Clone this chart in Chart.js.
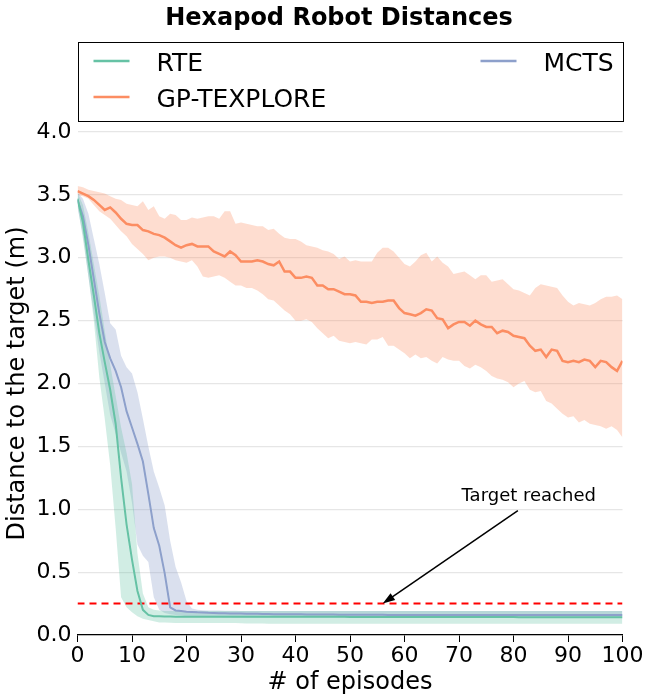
<!DOCTYPE html>
<html>
<head>
<meta charset="utf-8">
<script src="https://cdn.jsdelivr.net/npm/chart.js@4.4.1/dist/chart.umd.min.js"></script>
<style>
  html, body { margin: 0; padding: 0; background: #fff; }
  canvas { display: block; }
</style>
</head>
<body>
<canvas id="distChart" width="646" height="697"></canvas>
<script>
// episodes on the x axis
var episodes = Array.from({ length: 101 }, function (_, i) { return i; });
var xTicks = [0, 10, 20, 30, 40, 50, 60, 70, 80, 90, 100];
var yTicks = [0.0, 0.5, 1.0, 1.5, 2.0, 2.5, 3.0, 3.5, 4.0];
var targetLevel = 0.25;

// RTE
var rteMean = [3.47, 3.28, 2.98, 2.70, 2.40, 2.17, 1.95, 1.68, 1.25, 0.88,
  0.60, 0.35, 0.20, 0.16, 0.15, 0.15, 0.148, 0.147, 0.146, 0.146,
  0.145, 0.145, 0.145, 0.145, 0.145, 0.145, 0.145, 0.145, 0.145, 0.145,
  0.145, 0.145, 0.145, 0.145, 0.145, 0.145, 0.145, 0.145, 0.145, 0.145,
  0.145, 0.145, 0.145, 0.145, 0.145, 0.145, 0.145, 0.145, 0.145, 0.145,
  0.144, 0.143, 0.143, 0.143, 0.143, 0.143, 0.143, 0.143, 0.143, 0.143,
  0.143, 0.143, 0.143, 0.143, 0.143, 0.143, 0.143, 0.143, 0.143, 0.143,
  0.143, 0.143, 0.143, 0.143, 0.143, 0.143, 0.143, 0.143, 0.143, 0.143,
  0.143, 0.142, 0.142, 0.142, 0.142, 0.142, 0.142, 0.142, 0.142, 0.142,
  0.142, 0.142, 0.142, 0.142, 0.142, 0.142, 0.142, 0.142, 0.142, 0.142, 0.142];
var rteLow = [3.42, 3.15, 2.85, 2.50, 2.05, 1.72, 1.35, 0.85, 0.30, 0.22,
  0.18, 0.15, 0.13, 0.12, 0.11, 0.10, 0.10, 0.098, 0.096, 0.095,
  0.095, 0.095, 0.095, 0.095, 0.095, 0.095, 0.095, 0.095, 0.095, 0.095,
  0.093, 0.092, 0.092, 0.091, 0.091, 0.09, 0.09, 0.09, 0.09, 0.09,
  0.09, 0.09, 0.09, 0.09, 0.09, 0.09, 0.09, 0.09, 0.09, 0.09,
  0.09, 0.09, 0.09, 0.09, 0.09, 0.09, 0.09, 0.09, 0.09, 0.09,
  0.09, 0.09, 0.09, 0.09, 0.09, 0.09, 0.09, 0.09, 0.09, 0.09,
  0.09, 0.09, 0.09, 0.09, 0.09, 0.09, 0.09, 0.09, 0.09, 0.09,
  0.09, 0.09, 0.09, 0.09, 0.09, 0.09, 0.09, 0.09, 0.09, 0.09,
  0.09, 0.09, 0.09, 0.09, 0.09, 0.09, 0.09, 0.09, 0.09, 0.09, 0.09];
var rteHigh = [3.52, 3.42, 3.20, 2.95, 2.70, 2.42, 2.15, 1.90, 1.65, 1.45,
  1.20, 0.65, 0.33, 0.22, 0.20, 0.195, 0.19, 0.19, 0.19, 0.19,
  0.19, 0.19, 0.19, 0.19, 0.19, 0.19, 0.19, 0.19, 0.19, 0.19,
  0.19, 0.19, 0.19, 0.19, 0.19, 0.19, 0.19, 0.19, 0.19, 0.19,
  0.19, 0.19, 0.19, 0.19, 0.19, 0.19, 0.19, 0.19, 0.19, 0.19,
  0.19, 0.19, 0.19, 0.19, 0.19, 0.19, 0.19, 0.19, 0.19, 0.19,
  0.19, 0.19, 0.19, 0.19, 0.19, 0.19, 0.19, 0.19, 0.19, 0.19,
  0.19, 0.19, 0.19, 0.19, 0.19, 0.19, 0.19, 0.19, 0.19, 0.19,
  0.19, 0.19, 0.19, 0.19, 0.19, 0.19, 0.19, 0.19, 0.19, 0.19,
  0.19, 0.19, 0.19, 0.19, 0.19, 0.19, 0.19, 0.19, 0.19, 0.19, 0.19];

// MCTS
var mctsMean = [3.46, 3.33, 3.10, 2.83, 2.56, 2.33, 2.20, 2.10, 1.97, 1.78,
  1.65, 1.52, 1.38, 1.12, 0.85, 0.71, 0.49, 0.22, 0.195, 0.19,
  0.185, 0.183, 0.18, 0.178, 0.176, 0.175, 0.173, 0.172, 0.171, 0.17,
  0.17, 0.169, 0.168, 0.168, 0.167, 0.167, 0.166, 0.166, 0.166, 0.165,
  0.165, 0.165, 0.164, 0.164, 0.164, 0.163, 0.163, 0.163, 0.162, 0.162,
  0.162, 0.162, 0.161, 0.161, 0.161, 0.161, 0.161, 0.16, 0.16, 0.16,
  0.16, 0.16, 0.16, 0.16, 0.16, 0.16, 0.16, 0.16, 0.16, 0.16,
  0.16, 0.16, 0.16, 0.16, 0.16, 0.16, 0.16, 0.16, 0.16, 0.16,
  0.16, 0.16, 0.16, 0.16, 0.16, 0.16, 0.16, 0.16, 0.16, 0.16,
  0.16, 0.16, 0.16, 0.16, 0.16, 0.16, 0.16, 0.16, 0.16, 0.16, 0.16];
var mctsLow = [3.40, 3.18, 2.85, 2.55, 2.25, 2.00, 1.75, 1.60, 1.45, 1.30,
  1.05, 0.72, 0.63, 0.58, 0.30, 0.20, 0.175, 0.165, 0.16, 0.155,
  0.15, 0.148, 0.146, 0.145, 0.145, 0.144, 0.143, 0.142, 0.141, 0.14,
  0.14, 0.14, 0.14, 0.14, 0.14, 0.14, 0.14, 0.14, 0.14, 0.14,
  0.14, 0.14, 0.14, 0.14, 0.14, 0.14, 0.14, 0.14, 0.14, 0.14,
  0.14, 0.14, 0.14, 0.14, 0.14, 0.14, 0.14, 0.14, 0.14, 0.14,
  0.14, 0.14, 0.14, 0.14, 0.14, 0.14, 0.14, 0.14, 0.14, 0.14,
  0.14, 0.14, 0.14, 0.14, 0.14, 0.14, 0.14, 0.14, 0.14, 0.14,
  0.14, 0.14, 0.14, 0.14, 0.14, 0.14, 0.14, 0.14, 0.14, 0.14,
  0.14, 0.14, 0.14, 0.14, 0.14, 0.14, 0.14, 0.14, 0.14, 0.14, 0.14];
var mctsHigh = [3.52, 3.47, 3.35, 3.15, 2.95, 2.72, 2.48, 2.43, 2.22, 2.13,
  2.08, 1.93, 1.72, 1.50, 1.30, 1.17, 1.03, 0.75, 0.54, 0.42,
  0.27, 0.21, 0.20, 0.197, 0.195, 0.195, 0.194, 0.193, 0.192, 0.192,
  0.191, 0.19, 0.19, 0.19, 0.19, 0.19, 0.19, 0.19, 0.19, 0.19,
  0.19, 0.19, 0.19, 0.19, 0.19, 0.19, 0.19, 0.19, 0.19, 0.19,
  0.19, 0.19, 0.19, 0.19, 0.19, 0.19, 0.19, 0.19, 0.19, 0.19,
  0.19, 0.19, 0.19, 0.19, 0.19, 0.19, 0.19, 0.19, 0.19, 0.19,
  0.19, 0.19, 0.19, 0.19, 0.19, 0.19, 0.19, 0.19, 0.19, 0.19,
  0.19, 0.19, 0.19, 0.19, 0.19, 0.19, 0.19, 0.19, 0.19, 0.19,
  0.19, 0.19, 0.19, 0.19, 0.19, 0.19, 0.19, 0.19, 0.19, 0.19, 0.19];

// GP-TEXPLORE
var gpMean = [3.53, 3.51, 3.49, 3.46, 3.42, 3.38, 3.40, 3.36, 3.31, 3.27,
  3.26, 3.26, 3.22, 3.21, 3.19, 3.18, 3.16, 3.13, 3.10, 3.08,
  3.10, 3.11, 3.09, 3.09, 3.09, 3.05, 3.03, 3.01, 3.05, 3.02,
  2.97, 2.97, 2.97, 2.98, 2.97, 2.95, 2.94, 2.97, 2.89, 2.89,
  2.84, 2.84, 2.85, 2.84, 2.78, 2.78, 2.75, 2.75, 2.73, 2.71,
  2.71, 2.70, 2.65, 2.65, 2.64, 2.65, 2.65, 2.66, 2.66, 2.60,
  2.56, 2.55, 2.54, 2.56, 2.59, 2.58, 2.52, 2.51, 2.44, 2.47,
  2.49, 2.49, 2.46, 2.50, 2.47, 2.45, 2.45, 2.40, 2.42, 2.41,
  2.38, 2.37, 2.36, 2.30, 2.26, 2.27, 2.21, 2.27, 2.26, 2.18,
  2.17, 2.18, 2.17, 2.19, 2.18, 2.13, 2.18, 2.17, 2.13, 2.10, 2.18];
var gpLow = [3.50, 3.49, 3.47, 3.42, 3.37, 3.34, 3.31, 3.26, 3.21, 3.17,
  3.11, 3.07, 3.03, 2.98, 3.00, 3.01, 3.01, 3.00, 2.98, 2.97,
  2.96, 2.98, 2.93, 2.85, 2.84, 2.85, 2.86, 2.84, 2.81, 2.78,
  2.78, 2.76, 2.76, 2.74, 2.71, 2.67, 2.66, 2.62, 2.58, 2.55,
  2.50, 2.50, 2.51, 2.49, 2.44, 2.40, 2.36, 2.38, 2.34, 2.33,
  2.32, 2.33, 2.32, 2.31, 2.35, 2.35, 2.37, 2.30, 2.30, 2.27,
  2.24, 2.20, 2.23, 2.20, 2.21, 2.18, 2.16, 2.21, 2.19, 2.18,
  2.18, 2.14, 2.12, 2.15, 2.13, 2.10, 2.06, 2.04, 2.03, 2.01,
  1.97, 2.00, 2.02, 1.95, 1.93, 1.94, 1.86, 1.84, 1.80, 1.76,
  1.73, 1.74, 1.69, 1.71, 1.68, 1.67, 1.66, 1.64, 1.66, 1.63, 1.57];
var gpHigh = [3.57, 3.56, 3.54, 3.53, 3.52, 3.51, 3.49, 3.47, 3.46, 3.43,
  3.42, 3.41, 3.45, 3.38, 3.41, 3.33, 3.31, 3.35, 3.34, 3.30,
  3.30, 3.32, 3.31, 3.32, 3.33, 3.33, 3.31, 3.37, 3.37, 3.27,
  3.28, 3.27, 3.26, 3.25, 3.25, 3.22, 3.23, 3.19, 3.16, 3.15,
  3.15, 3.13, 3.10, 3.09, 3.08, 3.06, 3.05, 3.03, 2.99, 3.01,
  2.97, 2.98, 2.97, 2.97, 2.97, 3.04, 3.08, 3.08, 3.05, 3.00,
  2.95, 2.93, 2.97, 3.02, 3.04, 2.97, 3.01, 2.96, 2.93, 2.87,
  2.88, 2.89, 2.86, 2.83, 2.86, 2.86, 2.81, 2.82, 2.83, 2.79,
  2.75, 2.74, 2.72, 2.70, 2.76, 2.79, 2.78, 2.77, 2.76, 2.70,
  2.65, 2.62, 2.64, 2.63, 2.62, 2.64, 2.67, 2.69, 2.69, 2.70, 2.67];

var GREEN = '#66c2a5', ORANGE = '#fc8d62', BLUE = '#8da0cb';
var FONT = 'DejaVu Sans';

function pts(vals) {
  return episodes.map(function (e, i) { return { x: e, y: vals[i] }; });
}
function band(vals, fill, color) {
  return { label: '', data: pts(vals), borderColor: 'transparent', borderWidth: 0,
    pointRadius: 0, fill: fill, backgroundColor: color };
}

// annotation for "Target reached", in data units
var note = { text: 'Target reached', x: 82.8, y: 1.1, fromX: 80.8, fromY: 0.99, toX: 56, toY: 0.25 };

var overlay = {
  id: 'overlay',
  afterDraw: function (chart) {
    var ctx = chart.ctx, area = chart.chartArea;
    var xs = chart.scales.x, ys = chart.scales.y;
    ctx.save();
    // title
    ctx.fillStyle = '#000';
    ctx.font = 'bold 24px "' + FONT + '"';
    ctx.textAlign = 'center';
    ctx.textBaseline = 'alphabetic';
    ctx.fillText('Hexapod Robot Distances', 339, 25);

    // legend box
    ctx.lineWidth = 1;
    ctx.strokeStyle = '#000';
    ctx.strokeRect(Math.round(area.left) + 0.5, 42.5, Math.round(area.right - area.left), 79);
    var items = [
      { ds: chart.data.datasets[0], lx: area.left + 16, ty: 71, ly: 61 },
      { ds: chart.data.datasets[2], lx: area.left + 16, ty: 107, ly: 97 },
      { ds: chart.data.datasets[1], lx: area.left + 403, ty: 71, ly: 61 }
    ];
    ctx.font = '25px "' + FONT + '"';
    ctx.textAlign = 'left';
    items.forEach(function (it) {
      ctx.strokeStyle = it.ds.borderColor;
      ctx.lineWidth = 2.5;
      ctx.beginPath();
      ctx.moveTo(it.lx, it.ly);
      ctx.lineTo(it.lx + 36, it.ly);
      ctx.stroke();
      ctx.fillStyle = '#000';
      ctx.fillText(it.ds.label, it.lx + 63, it.ty);
    });

    // annotation arrow
    var x0 = xs.getPixelForValue(note.fromX), y0 = ys.getPixelForValue(note.fromY);
    var x1 = xs.getPixelForValue(note.toX), y1 = ys.getPixelForValue(note.toY);
    var ang = Math.atan2(y1 - y0, x1 - x0), head = 13;
    ctx.strokeStyle = '#000';
    ctx.fillStyle = '#000';
    ctx.lineWidth = 1.5;
    ctx.beginPath();
    ctx.moveTo(x0, y0);
    ctx.lineTo(x1 - Math.cos(ang) * head * 0.8, y1 - Math.sin(ang) * head * 0.8);
    ctx.stroke();
    ctx.beginPath();
    ctx.moveTo(x1, y1);
    ctx.lineTo(x1 - head * Math.cos(ang - 0.32), y1 - head * Math.sin(ang - 0.32));
    ctx.lineTo(x1 - head * Math.cos(ang + 0.32), y1 - head * Math.sin(ang + 0.32));
    ctx.closePath();
    ctx.fill();
    ctx.font = '18px "' + FONT + '"';
    ctx.textAlign = 'center';
    ctx.textBaseline = 'middle';
    ctx.fillText(note.text, xs.getPixelForValue(note.x), ys.getPixelForValue(note.y));
    ctx.restore();
  }
};

var ctx = document.getElementById('distChart').getContext('2d');
var distChart = new Chart(ctx, {
  type: 'line',
  data: {
    datasets: [
      { label: 'RTE', data: pts(rteMean), borderColor: GREEN, borderWidth: 2, pointRadius: 0, fill: false },
      { label: 'MCTS', data: pts(mctsMean), borderColor: BLUE, borderWidth: 2, pointRadius: 0, fill: false },
      { label: 'GP-TEXPLORE', data: pts(gpMean), borderColor: ORANGE, borderWidth: 2.5, pointRadius: 0, fill: false },
      { label: 'target', data: [{ x: 0, y: targetLevel }, { x: 100, y: targetLevel }],
        borderColor: '#ff0000', borderWidth: 2, borderDash: [7, 5], pointRadius: 0, fill: false },
      band(rteLow, false, 'transparent'),
      band(rteHigh, '-1', 'rgba(102,194,165,0.3)'),
      band(mctsLow, false, 'transparent'),
      band(mctsHigh, '-1', 'rgba(141,160,203,0.32)'),
      band(gpLow, false, 'transparent'),
      band(gpHigh, '-1', 'rgba(252,141,98,0.3)')
    ]
  },
  options: {
    responsive: false,
    animation: false,
    devicePixelRatio: 1,
    layout: { padding: { top: 132, right: 23.5, left: 0, bottom: 0 } },
    plugins: {
      legend: { display: false },
      title: { display: false },
      tooltip: { enabled: false }
    },
    scales: {
      x: {
        type: 'linear',
        min: 0,
        max: 100,
        afterBuildTicks: function (axis) { axis.ticks = xTicks.map(function (v) { return { value: v }; }); },
        afterFit: function (axis) { axis.height = 62; },
        grid: { drawOnChartArea: false, drawTicks: true, tickLength: 7, color: '#000', lineWidth: 1 },
        border: { display: true, color: '#000', width: 1.3 },
        ticks: { color: '#000', font: { family: FONT, size: 22 }, padding: 1, maxRotation: 0 },
        title: { display: true, text: '# of episodes', color: '#000',
          font: { family: FONT, size: 24 }, padding: { top: 0, bottom: 0 } }
      },
      y: {
        min: 0,
        max: 4,
        afterBuildTicks: function (axis) { axis.ticks = yTicks.map(function (v) { return { value: v }; }); },
        afterFit: function (axis) { axis.width = 77.5; },
        grid: { color: '#e6e6e6', lineWidth: 1.2, drawTicks: false },
        border: { display: false },
        ticks: { color: '#000', font: { family: FONT, size: 22 }, padding: 6,
          callback: function (v) { return v.toFixed(1); } },
        title: { display: true, text: 'Distance to the target (m)', color: '#000',
          font: { family: FONT, size: 24 }, padding: { top: 3, bottom: 0 } }
      }
    }
  },
  plugins: [overlay]
});
</script>
</body>
</html>
